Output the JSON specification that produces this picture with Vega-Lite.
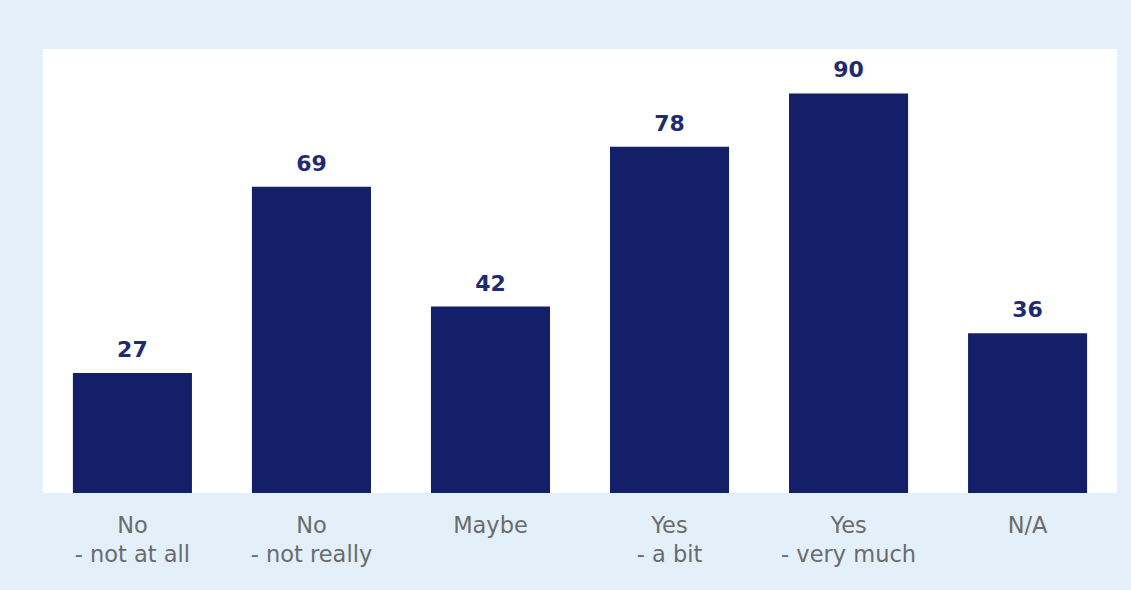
{
  "$schema": "https://vega.github.io/schema/vega-lite/v6.json",
  "autosize": "none",
  "width": 1074,
  "height": 444,
  "padding": {"left": 43, "top": 49, "right": 14, "bottom": 97},
  "background": "#e3f0f9",
  "view": {"fill": "#ffffff", "stroke": null},
  "data": {
    "values": [
      {"answer": "No\n- not at all", "count": 27},
      {"answer": "No\n- not really", "count": 69},
      {"answer": "Maybe", "count": 42},
      {"answer": "Yes\n- a bit", "count": 78},
      {"answer": "Yes\n- very much", "count": 90},
      {"answer": "N/A", "count": 36}
    ]
  },
  "encoding": {
    "x": {
      "field": "answer",
      "type": "nominal",
      "sort": null,
      "scale": {"paddingInner": 0.335, "paddingOuter": 0.167},
      "axis": {
        "title": null,
        "labelAngle": 0,
        "domain": false,
        "ticks": false,
        "labelExpr": "split(datum.label, '\\n')",
        "labelFont": "DejaVu Sans",
        "labelFontSize": 22.5,
        "labelColor": "#6b6b6b",
        "labelLineHeight": 29,
        "labelPadding": 21,
        "labelBaseline": "top"
      }
    },
    "y": {
      "field": "count",
      "type": "quantitative",
      "scale": {"domain": [0, 100], "nice": false},
      "axis": null
    }
  },
  "layer": [
    {"mark": {"type": "bar", "color": "#131f69"}},
    {
      "mark": {
        "type": "text",
        "baseline": "alphabetic",
        "dy": -16,
        "font": "DejaVu Sans",
        "fontWeight": "bold",
        "fontSize": 22,
        "color": "#1f2b70"
      },
      "encoding": {"text": {"field": "count", "type": "quantitative"}}
    }
  ]
}
